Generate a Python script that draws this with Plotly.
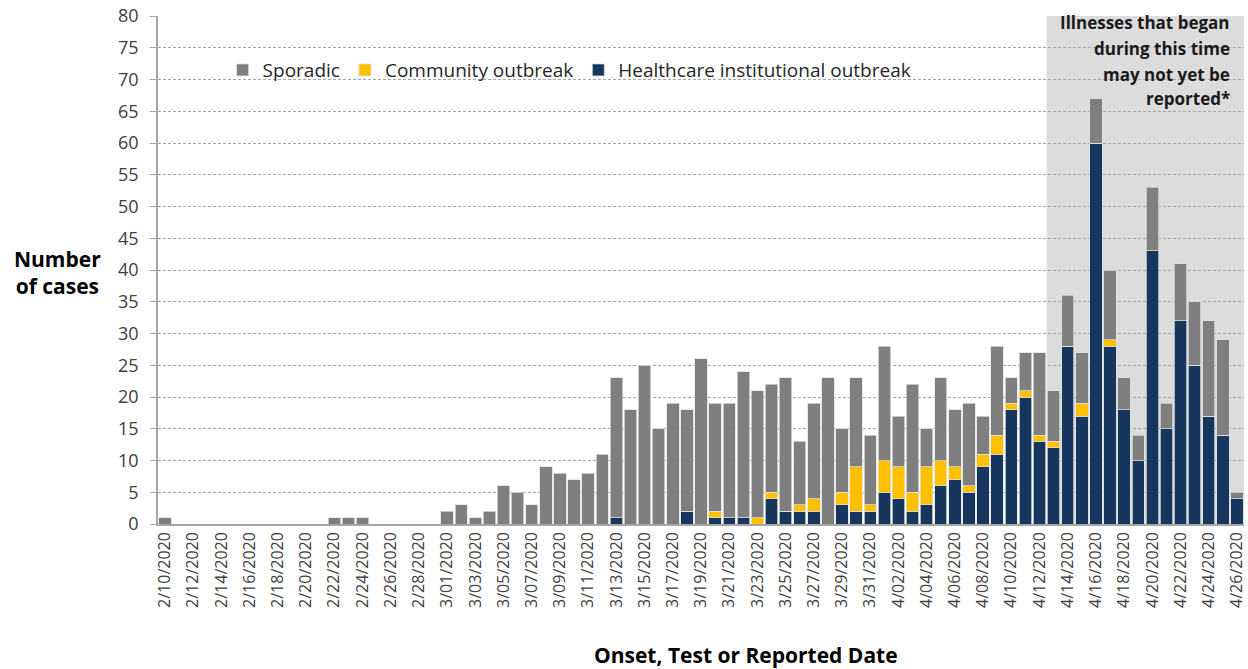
import plotly.graph_objects as go
import datetime as dt

# Dates 2/10/2020 .. 4/26/2020
start = dt.date(2020, 2, 10)
dates = [start + dt.timedelta(days=i) for i in range(77)]
date_labels = [f"{d.month}/{d.day:02d}/2020" for d in dates]

# Totals per day
totals = [1, 0, 0, 0, 0, 0, 0, 0, 0, 0,
          0, 0, 1, 1, 1, 0, 0, 0, 0, 0,
          2, 3, 1, 2, 6, 5, 3, 9, 8, 7,
          8, 11, 23, 18, 25, 15, 19, 18, 26, 19,
          19, 24, 21, 22, 23, 13, 19, 23, 15, 23,
          14, 28, 17, 22, 15, 23, 18, 19, 17, 28,
          23, 27, 27, 21, 36, 27, 67, 40, 23, 14,
          53, 19, 41, 35, 32, 29, 5]

healthcare = [0, 0, 0, 0, 0, 0, 0, 0, 0, 0,
              0, 0, 0, 0, 0, 0, 0, 0, 0, 0,
              0, 0, 0, 0, 0, 0, 0, 0, 0, 0,
              0, 0, 1, 0, 0, 0, 0, 2, 0, 1,
              1, 1, 0, 4, 2, 2, 2, 0, 3, 2,
              2, 5, 4, 2, 3, 6, 7, 5, 9, 11,
              18, 20, 13, 12, 28, 17, 60, 28, 18, 10,
              43, 15, 32, 25, 17, 14, 4]

community = [0, 0, 0, 0, 0, 0, 0, 0, 0, 0,
             0, 0, 0, 0, 0, 0, 0, 0, 0, 0,
             0, 0, 0, 0, 0, 0, 0, 0, 0, 0,
             0, 0, 0, 0, 0, 0, 0, 0, 0, 1,
             0, 0, 1, 1, 0, 1, 2, 0, 2, 7,
             1, 5, 5, 3, 6, 4, 2, 1, 2, 3,
             1, 1, 1, 1, 0, 2, 0, 1, 0, 0,
             0, 0, 0, 0, 0, 0, 0]

sporadic = [t - h - c for t, h, c in zip(totals, healthcare, community)]

y_ticks = list(range(0, 81, 5))

note_lines = ["Illnesses that began", "during this time", "may not yet be", "reported*"]

C_SPOR = "#7f7f7f"
C_COMM = "#ffc000"
C_HC = "#17365d"
FONT = "Open Sans"

fig = go.Figure()
line = dict(color="rgba(225,225,225,0.9)", width=0.8)
fig.add_trace(go.Bar(x=date_labels, y=healthcare, name="Healthcare institutional outbreak",
                     marker=dict(color=C_HC, line=line)))
fig.add_trace(go.Bar(x=date_labels, y=community, name="Community outbreak",
                     marker=dict(color=C_COMM, line=line)))
fig.add_trace(go.Bar(x=date_labels, y=sporadic, name="Sporadic",
                     marker=dict(color=C_SPOR, line=line)))

# shaded "not yet reported" region starting between 4/12 and 4/13
shade_start = date_labels.index("4/13/2020") - 0.5
fig.add_shape(type="rect", xref="x", yref="y", x0=shade_start, x1=len(date_labels) - 0.5,
              y0=0, y1=80, fillcolor="#dcdcdc", line=dict(width=0), layer="below")
# white box behind legend (hides the gridlines there)
fig.add_shape(type="rect", xref="paper", yref="paper", x0=0.0615, x1=0.694,
              y0=0.835, y1=0.935, fillcolor="white", line=dict(width=0), layer="below")

fig.update_layout(
    barmode="stack",
    bargap=0.12,
    width=1248, height=669,
    margin=dict(l=158, r=1, t=16, b=145),
    plot_bgcolor="white", paper_bgcolor="white",
    font=dict(family=FONT, size=16, color="#404040"),
    showlegend=True,
    legend=dict(orientation="h", traceorder="reversed",
                x=0.0595, y=0.931, xanchor="left", yanchor="top",
                bgcolor="rgba(0,0,0,0)", font=dict(size=19, color="#262626"),
                itemwidth=30, tracegroupgap=0),
    xaxis=dict(type="category", tickmode="array", tickvals=date_labels[::2],
               ticktext=date_labels[::2], tickangle=-90,
               ticks="", showline=True, linecolor="#a6a6a6", linewidth=1.5,
               tickfont=dict(size=16, color="#404040"), showgrid=False,
               range=[-0.5, len(date_labels) - 0.5]),
    xaxis2=dict(overlaying="x", anchor="y", side="bottom",
                range=[-0.5, len(date_labels) - 0.5],
                tickmode="array", tickvals=[i - 0.5 for i in range(0, len(date_labels) + 1, 2)],
                showticklabels=False, ticks="outside", ticklen=6, tickcolor="#a6a6a6",
                tickwidth=1.5, showgrid=False, showline=False, zeroline=False),
    yaxis=dict(range=[0, 80], tickvals=y_ticks, showgrid=True, gridcolor="#a6a6a6",
               griddash="3px,2px", gridwidth=1, showline=True, linecolor="#a6a6a6",
               linewidth=1.5, ticks="outside", ticklen=6, tickcolor="#a6a6a6",
               ticklabelstandoff=8,
               tickfont=dict(size=18, color="#404040"), zeroline=False),
)

# note lines in the shaded region (pixel rows 23, 48, 74, 98 -> paper coords)
for i, txt in enumerate(note_lines):
    py = [23, 48, 74, 98][i]
    fig.add_annotation(text=f"<b>{txt}</b>", xref="paper", yref="paper",
                       x=(1235 - 158) / 1089, y=(524 - py) / 508, xanchor="right", yanchor="middle",
                       align="right", showarrow=False, font=dict(size=17, color="#1a1a1a", family=FONT))
fig.add_annotation(text="<b>Number<br>of cases</b>", xref="paper", yref="paper",
                   x=(57 - 158) / 1089, y=(524 - 272) / 508, xanchor="center", yanchor="middle",
                   align="center", showarrow=False, font=dict(size=21, color="#000000", family=FONT))
fig.add_annotation(text="<b>Onset, Test or Reported Date</b>", xref="paper", yref="paper",
                   x=(748 - 158) / 1089, y=(524 - 655) / 508, xanchor="center", yanchor="middle",
                   showarrow=False, font=dict(size=21, color="#000000", family=FONT))

fig.write_html("out.html", config={"displayModeBar": False},
               post_script="document.body.style.margin='0px';")
